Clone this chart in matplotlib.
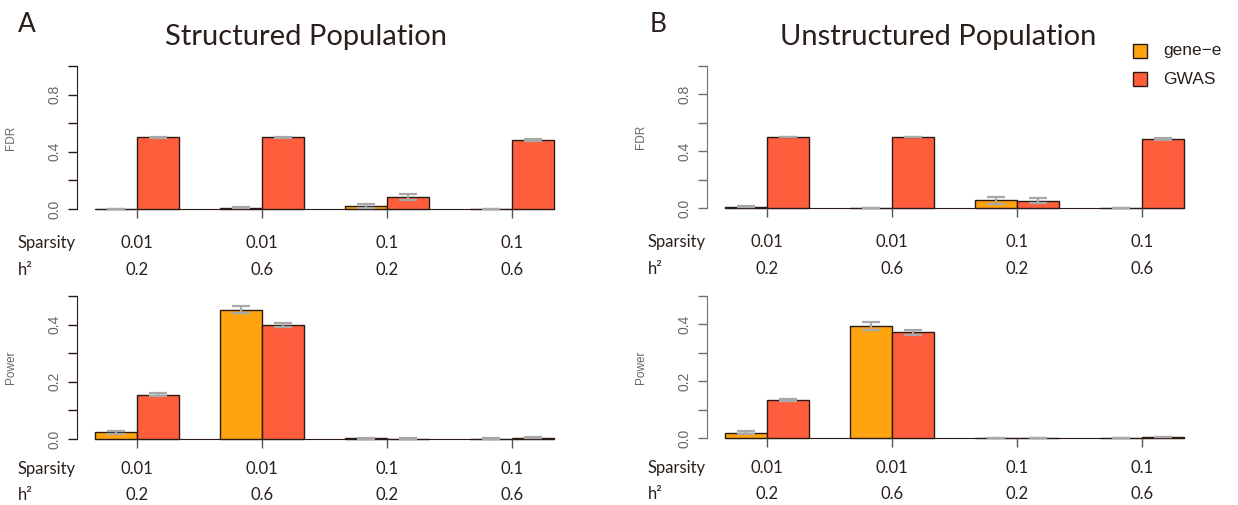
import matplotlib
matplotlib.use("Agg")
import matplotlib.pyplot as plt
import numpy as np

# Simulation settings for each group of bars
sparsity = ["0.01", "0.01", "0.1", "0.1"]
h2 = ["0.2", "0.6", "0.2", "0.6"]
methods = ["gene\u2212e", "GWAS"]

# FDR (mean, error)
fdr_struct_gene = [0.001, 0.01, 0.019, 0.001]
fdr_struct_gene_err = [0.001, 0.003, 0.015, 0.001]
fdr_struct_gwas = [0.500, 0.500, 0.084, 0.482]
fdr_struct_gwas_err = [0.002, 0.002, 0.020, 0.007]

fdr_unstr_gene = [0.010, 0.002, 0.053, 0.002]
fdr_unstr_gene_err = [0.006, 0.001, 0.026, 0.001]
fdr_unstr_gwas = [0.500, 0.500, 0.052, 0.484]
fdr_unstr_gwas_err = [0.002, 0.002, 0.016, 0.006]

# Power (mean, error)
pow_struct_gene = [0.023, 0.452, 0.002, 0.001]
pow_struct_gene_err = [0.006, 0.012, 0.001, 0.001]
pow_struct_gwas = [0.155, 0.399, 0.001, 0.005]
pow_struct_gwas_err = [0.005, 0.006, 0.001, 0.002]

pow_unstr_gene = [0.019, 0.394, 0.001, 0.001]
pow_unstr_gene_err = [0.005, 0.013, 0.0005, 0.0005]
pow_unstr_gwas = [0.134, 0.372, 0.001, 0.004]
pow_unstr_gwas_err = [0.005, 0.008, 0.0005, 0.001]

col_gene = "#FFA310"
col_gwas = "#FF5E3C"
edge = "#2a1a14"
txt = "#2a1f1a"
gray_err = "#a8a8a8"
W, H = 1238, 505
myriad = ["Lato", "DejaVu Sans"]
helv = ["Liberation Sans", "DejaVu Sans"]

fig = plt.figure(figsize=(W / 100, H / 100), dpi=100)


def px_axes(x0, x1, y_zero, y_top, ymax):
    # axes placed so that y=0 and y=ymax land on the given pixel rows
    pad = 0.04 * ymax
    scale = (y_zero - y_top) / ymax
    bottom = y_zero + pad * scale
    top = y_top - pad * scale
    return fig.add_axes([x0 / W, 1 - bottom / H, (x1 - x0) / W, (bottom - top) / H])


def panel(ax, gene, gene_err, gwas, gwas_err, ymax, step, ylabel, spine_col, rows):
    n = len(gene)
    left = 1 + 3 * np.arange(n)
    ax.bar(left + 0.5, gene, width=1, color=col_gene, edgecolor=edge, linewidth=1)
    ax.bar(left + 1.5, gwas, width=1, color=col_gwas, edgecolor=edge, linewidth=1)
    for xs, m, e in [(left + 0.5, gene, gene_err), (left + 1.5, gwas, gwas_err)]:
        ax.errorbar(xs, m, yerr=e, fmt="none", ecolor=gray_err, elinewidth=1.6,
                    capsize=6.5, capthick=1.6, zorder=3)
    ax.set_xlim(0.56, 12.44)
    ax.set_ylim(-0.04 * ymax, 1.04 * ymax)
    for s in ["top", "right"]:
        ax.spines[s].set_visible(False)
    ax.spines["left"].set_bounds(0, ymax)
    ax.spines["left"].set_color(spine_col)
    ax.spines["bottom"].set_position(("data", 0))
    ax.spines["bottom"].set_bounds(left[0], left[-1] + 2)
    ax.spines["bottom"].set_color(edge)
    ax.spines["bottom"].set_zorder(0)
    ticks = np.arange(0, ymax + step / 2, step)
    ax.set_yticks(ticks)
    ax.set_yticklabels([f"{t:.1f}" if i % 2 == 0 else "" for i, t in enumerate(ticks)],
                       rotation=90, va="center", family=helv, fontsize=10, color="#666666")
    ax.tick_params(axis="y", length=6.5, width=1, color=spine_col, pad=5)
    ax.set_xticks(left + 1)
    ax.set_xticklabels([])
    ax.tick_params(axis="x", length=6.5, width=1, color="#555555")
    ax.set_ylabel(ylabel, family=helv, fontsize=8.5, color="#666666", labelpad=10)
    ax.yaxis.set_label_coords(-0.121, 0.5 / 1.08 + 0.04 / 1.08)

    # two rows of settings under the bars
    r1, r2 = rows
    for i in range(n):
        ax.annotate(sparsity[i], xy=(left[i] + 1, 0), xytext=(0, r1), textcoords="offset points",
                    ha="center", va="center", family=myriad, fontsize=12, color=txt,
                    annotation_clip=False)
        ax.annotate(h2[i], xy=(left[i] + 1, 0), xytext=(0, r2), textcoords="offset points",
                    ha="center", va="center", family=myriad, fontsize=12, color=txt,
                    annotation_clip=False)
    ax.annotate("Sparsity", xy=(0.56, 0), xytext=(-42.5, r1), textcoords="offset points",
                ha="left", va="center", family=myriad, fontsize=12, color=txt,
                annotation_clip=False)
    ax.annotate("h\u00b2", xy=(0.56, 0), xytext=(-42.5, r2), textcoords="offset points",
                ha="left", va="center", family=myriad, fontsize=12, color=txt,
                annotation_clip=False)


ax1 = px_axes(77, 572, 209, 66, 1.0)
panel(ax1, fdr_struct_gene, fdr_struct_gene_err, fdr_struct_gwas, fdr_struct_gwas_err,
      1.0, 0.2, "FDR", edge, (-24.5, -44))
ax2 = px_axes(77, 572, 439, 296, 0.5)
panel(ax2, pow_struct_gene, pow_struct_gene_err, pow_struct_gwas, pow_struct_gwas_err,
      0.5, 0.1, "Power", edge, (-21.5, -40.5))
ax3 = px_axes(707, 1202, 208, 66, 1.0)
panel(ax3, fdr_unstr_gene, fdr_unstr_gene_err, fdr_unstr_gwas, fdr_unstr_gwas_err,
      1.0, 0.2, "FDR", "#7a6e6a", (-24.5, -44))
ax4 = px_axes(707, 1202, 438, 296, 0.5)
panel(ax4, pow_unstr_gene, pow_unstr_gene_err, pow_unstr_gwas, pow_unstr_gwas_err,
      0.5, 0.1, "Power", "#7a6e6a", (-21.5, -40.5))

# Panel titles and letters
fig.text(306 / W, 1 - 37 / H, "Structured Population", ha="center", va="center",
         family=myriad, fontsize=21, color=txt)
fig.text(938 / W, 1 - 37 / H, "Unstructured Population", ha="center", va="center",
         family=myriad, fontsize=21, color=txt)
fig.text(18 / W, 1 - 24 / H, "A", ha="left", va="center", family=myriad, fontsize=19, color=txt)
fig.text(650 / W, 1 - 24 / H, "B", ha="left", va="center", family=myriad, fontsize=19, color=txt)

# Legend
for yc, c, lab in [(51, col_gene, methods[0]), (79, col_gwas, methods[1])]:
    fig.patches.append(plt.Rectangle((1133 / W, 1 - (yc + 6.5) / H), 14 / W, 13 / H,
                                     transform=fig.transFigure, facecolor=c,
                                     edgecolor=edge, linewidth=1))
    fig.text(1163 / W, 1 - yc / H, lab, ha="left", va="center", family=helv,
             fontsize=12.5, color=txt)

fig.savefig("out.png", dpi=100)
